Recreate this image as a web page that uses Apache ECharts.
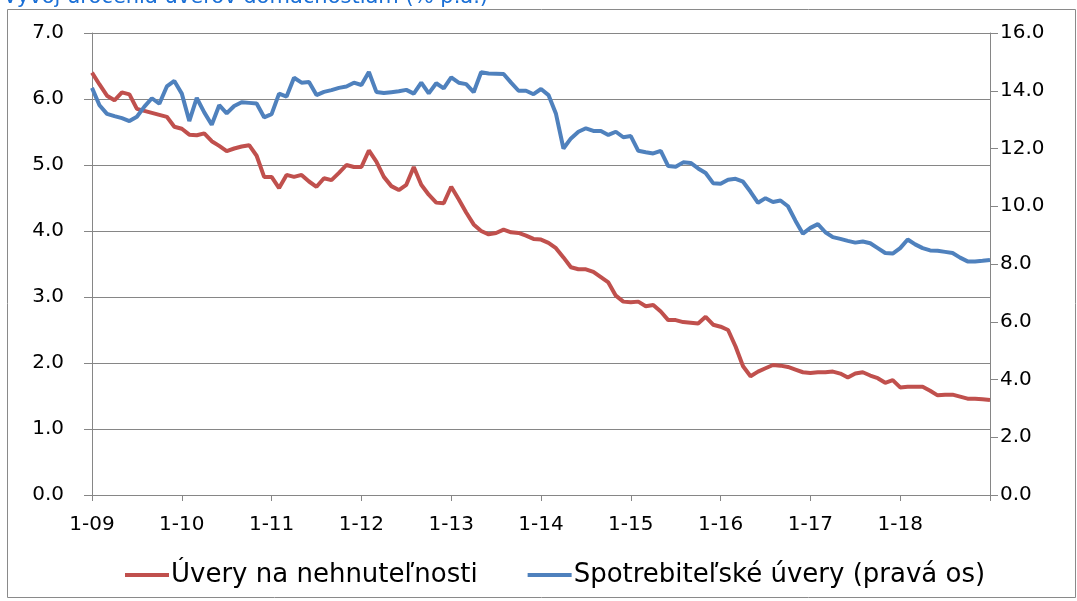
<!DOCTYPE html>
<html>
<head>
<meta charset="utf-8">
<script src="https://cdn.jsdelivr.net/npm/echarts@6/dist/echarts.min.js"></script>
<style>
  html, body { margin: 0; padding: 0; background: #fff; }
  #main { width: 1077px; height: 601px; }
</style>
</head>
<body>
<div id="main"></div>
<script>
// hypotéky (ľavá os), mesačne 1-09 .. 1-19
var mortgage = [
  6.40, 6.22, 6.05, 5.98, 6.10, 6.07, 5.85, 5.82, 5.79, 5.76, 5.73, 5.58,
  5.55, 5.46, 5.45, 5.48, 5.36, 5.29, 5.21, 5.25, 5.28, 5.30, 5.14, 4.82,
  4.82, 4.65, 4.85, 4.82, 4.85, 4.75, 4.67, 4.80, 4.77, 4.88, 5.00, 4.97,
  4.97, 5.22, 5.05, 4.82, 4.68, 4.62, 4.70, 4.97, 4.70, 4.55, 4.43, 4.42,
  4.67, 4.48, 4.28, 4.10, 4.00, 3.95, 3.97, 4.02, 3.98, 3.97, 3.93, 3.88,
  3.87, 3.82, 3.74, 3.60, 3.45, 3.42, 3.42, 3.38, 3.30, 3.22, 3.02, 2.93,
  2.92, 2.93, 2.86, 2.88, 2.78, 2.65, 2.65, 2.62, 2.61, 2.60, 2.70, 2.58,
  2.55, 2.50, 2.25, 1.95, 1.80, 1.87, 1.92, 1.97, 1.96, 1.94, 1.90, 1.86,
  1.85, 1.86, 1.86, 1.87, 1.84, 1.78, 1.84, 1.86, 1.81, 1.77, 1.70, 1.74,
  1.63, 1.64, 1.64, 1.64, 1.58, 1.51, 1.52, 1.52, 1.49, 1.46, 1.46, 1.45,
  1.44
];
// spotrebiteľské (pravá os)
var consumer = [
  14.10, 13.50, 13.20, 13.12, 13.05, 12.95, 13.10, 13.45, 13.74, 13.55, 14.15, 14.34,
  13.90, 12.95, 13.75, 13.25, 12.82, 13.50, 13.22, 13.47, 13.60, 13.58, 13.56, 13.08,
  13.19, 13.90, 13.80, 14.45, 14.28, 14.30, 13.85, 13.96, 14.02, 14.10, 14.15, 14.28,
  14.20, 14.65, 13.96, 13.92, 13.95, 13.98, 14.03, 13.90, 14.28, 13.91, 14.26, 14.08,
  14.46, 14.28, 14.23, 13.95, 14.64, 14.60, 14.59, 14.58, 14.28, 14.00, 14.00, 13.88,
  14.06, 13.85, 13.20, 12.00, 12.35, 12.58, 12.70, 12.61, 12.61, 12.47, 12.58, 12.39,
  12.43, 11.92, 11.87, 11.83, 11.92, 11.39, 11.37, 11.52, 11.50, 11.31, 11.15, 10.80,
  10.78, 10.92, 10.95, 10.85, 10.50, 10.12, 10.28, 10.15, 10.20, 10.00, 9.50, 9.05,
  9.25, 9.38, 9.10, 8.93, 8.87, 8.80, 8.74, 8.78, 8.72, 8.55, 8.38, 8.36,
  8.55, 8.85, 8.68, 8.55, 8.47, 8.46, 8.42, 8.38, 8.22, 8.09, 8.09, 8.11,
  8.14
];

var months = [];
for (var i = 0; i < mortgage.length; i++) {
  var yy = 9 + Math.floor(i / 12);
  months.push((i % 12 + 1) + '-' + (yy < 10 ? '0' + yy : yy));
}

var nameMortgage = 'Úvery na nehnuteľnosti';
var nameConsumer = 'Spotrebiteľské úvery (pravá os)';

var font = 'DejaVu Sans';
var axisGrey = '#868686';

var chart = echarts.init(document.getElementById('main'));
chart.setOption({
  animation: false,
  backgroundColor: '#fff',
  title: {
    text: 'Vývoj úročenia úverov domácnostiam (% p.a.)',
    left: -2, top: -18,
    textStyle: { color: '#1a6fd6', fontSize: 21, fontWeight: 'normal', fontFamily: font }
  },
  graphic: [{
    type: 'rect', silent: true, z: -1,
    shape: { x: 7.5, y: 9.5, width: 1068, height: 588 },
    style: { fill: 'none', stroke: '#8a8a8a', lineWidth: 1 }
  }],
  grid: { left: 92, right: 87, top: 33, bottom: 106 },
  legend: {
    bottom: 8, left: 120,
    itemWidth: 44, itemHeight: 4, itemGap: 50,
    icon: 'rect',
    textStyle: { fontFamily: font, fontSize: 26, color: '#000', padding: [0, 0, 0, -3] },
    data: [nameMortgage, nameConsumer]
  },
  xAxis: {
    type: 'category', data: months, boundaryGap: false,
    axisLine: { lineStyle: { color: axisGrey } },
    axisTick: { length: 6, interval: function (idx) { return idx % 12 === 0; }, lineStyle: { color: axisGrey } },
    axisLabel: {
      interval: function (idx) { return idx % 12 === 0 && idx < 120; },
      margin: 20, fontFamily: font, fontSize: 20, color: '#000'
    },
    splitLine: { show: false }
  },
  yAxis: [{
    type: 'value', min: 0, max: 7, interval: 1,
    axisLine: { show: true, lineStyle: { color: axisGrey } },
    axisTick: { show: true, length: 8, lineStyle: { color: axisGrey } },
    axisLabel: { margin: 28, fontFamily: font, fontSize: 20, color: '#000',
      formatter: function (v) { return v.toFixed(1); } },
    splitLine: { lineStyle: { color: axisGrey, width: 1 } }
  }, {
    type: 'value', min: 0, max: 16, interval: 2, position: 'right',
    axisLine: { show: true, lineStyle: { color: axisGrey } },
    axisTick: { show: true, length: 8, lineStyle: { color: axisGrey } },
    axisLabel: { margin: 10, fontFamily: font, fontSize: 20, color: '#000',
      formatter: function (v) { return v.toFixed(1); } },
    splitLine: { show: false }
  }],
  series: [{
    name: nameMortgage, type: 'line', yAxisIndex: 0, data: mortgage,
    showSymbol: false, symbol: 'none',
    itemStyle: { color: '#c0504d' },
    lineStyle: { color: '#c0504d', width: 4 }
  }, {
    name: nameConsumer, type: 'line', yAxisIndex: 1, data: consumer,
    showSymbol: false, symbol: 'none',
    itemStyle: { color: '#4f81bd' },
    lineStyle: { color: '#4f81bd', width: 4 }
  }]
});
</script>
</body>
</html>
